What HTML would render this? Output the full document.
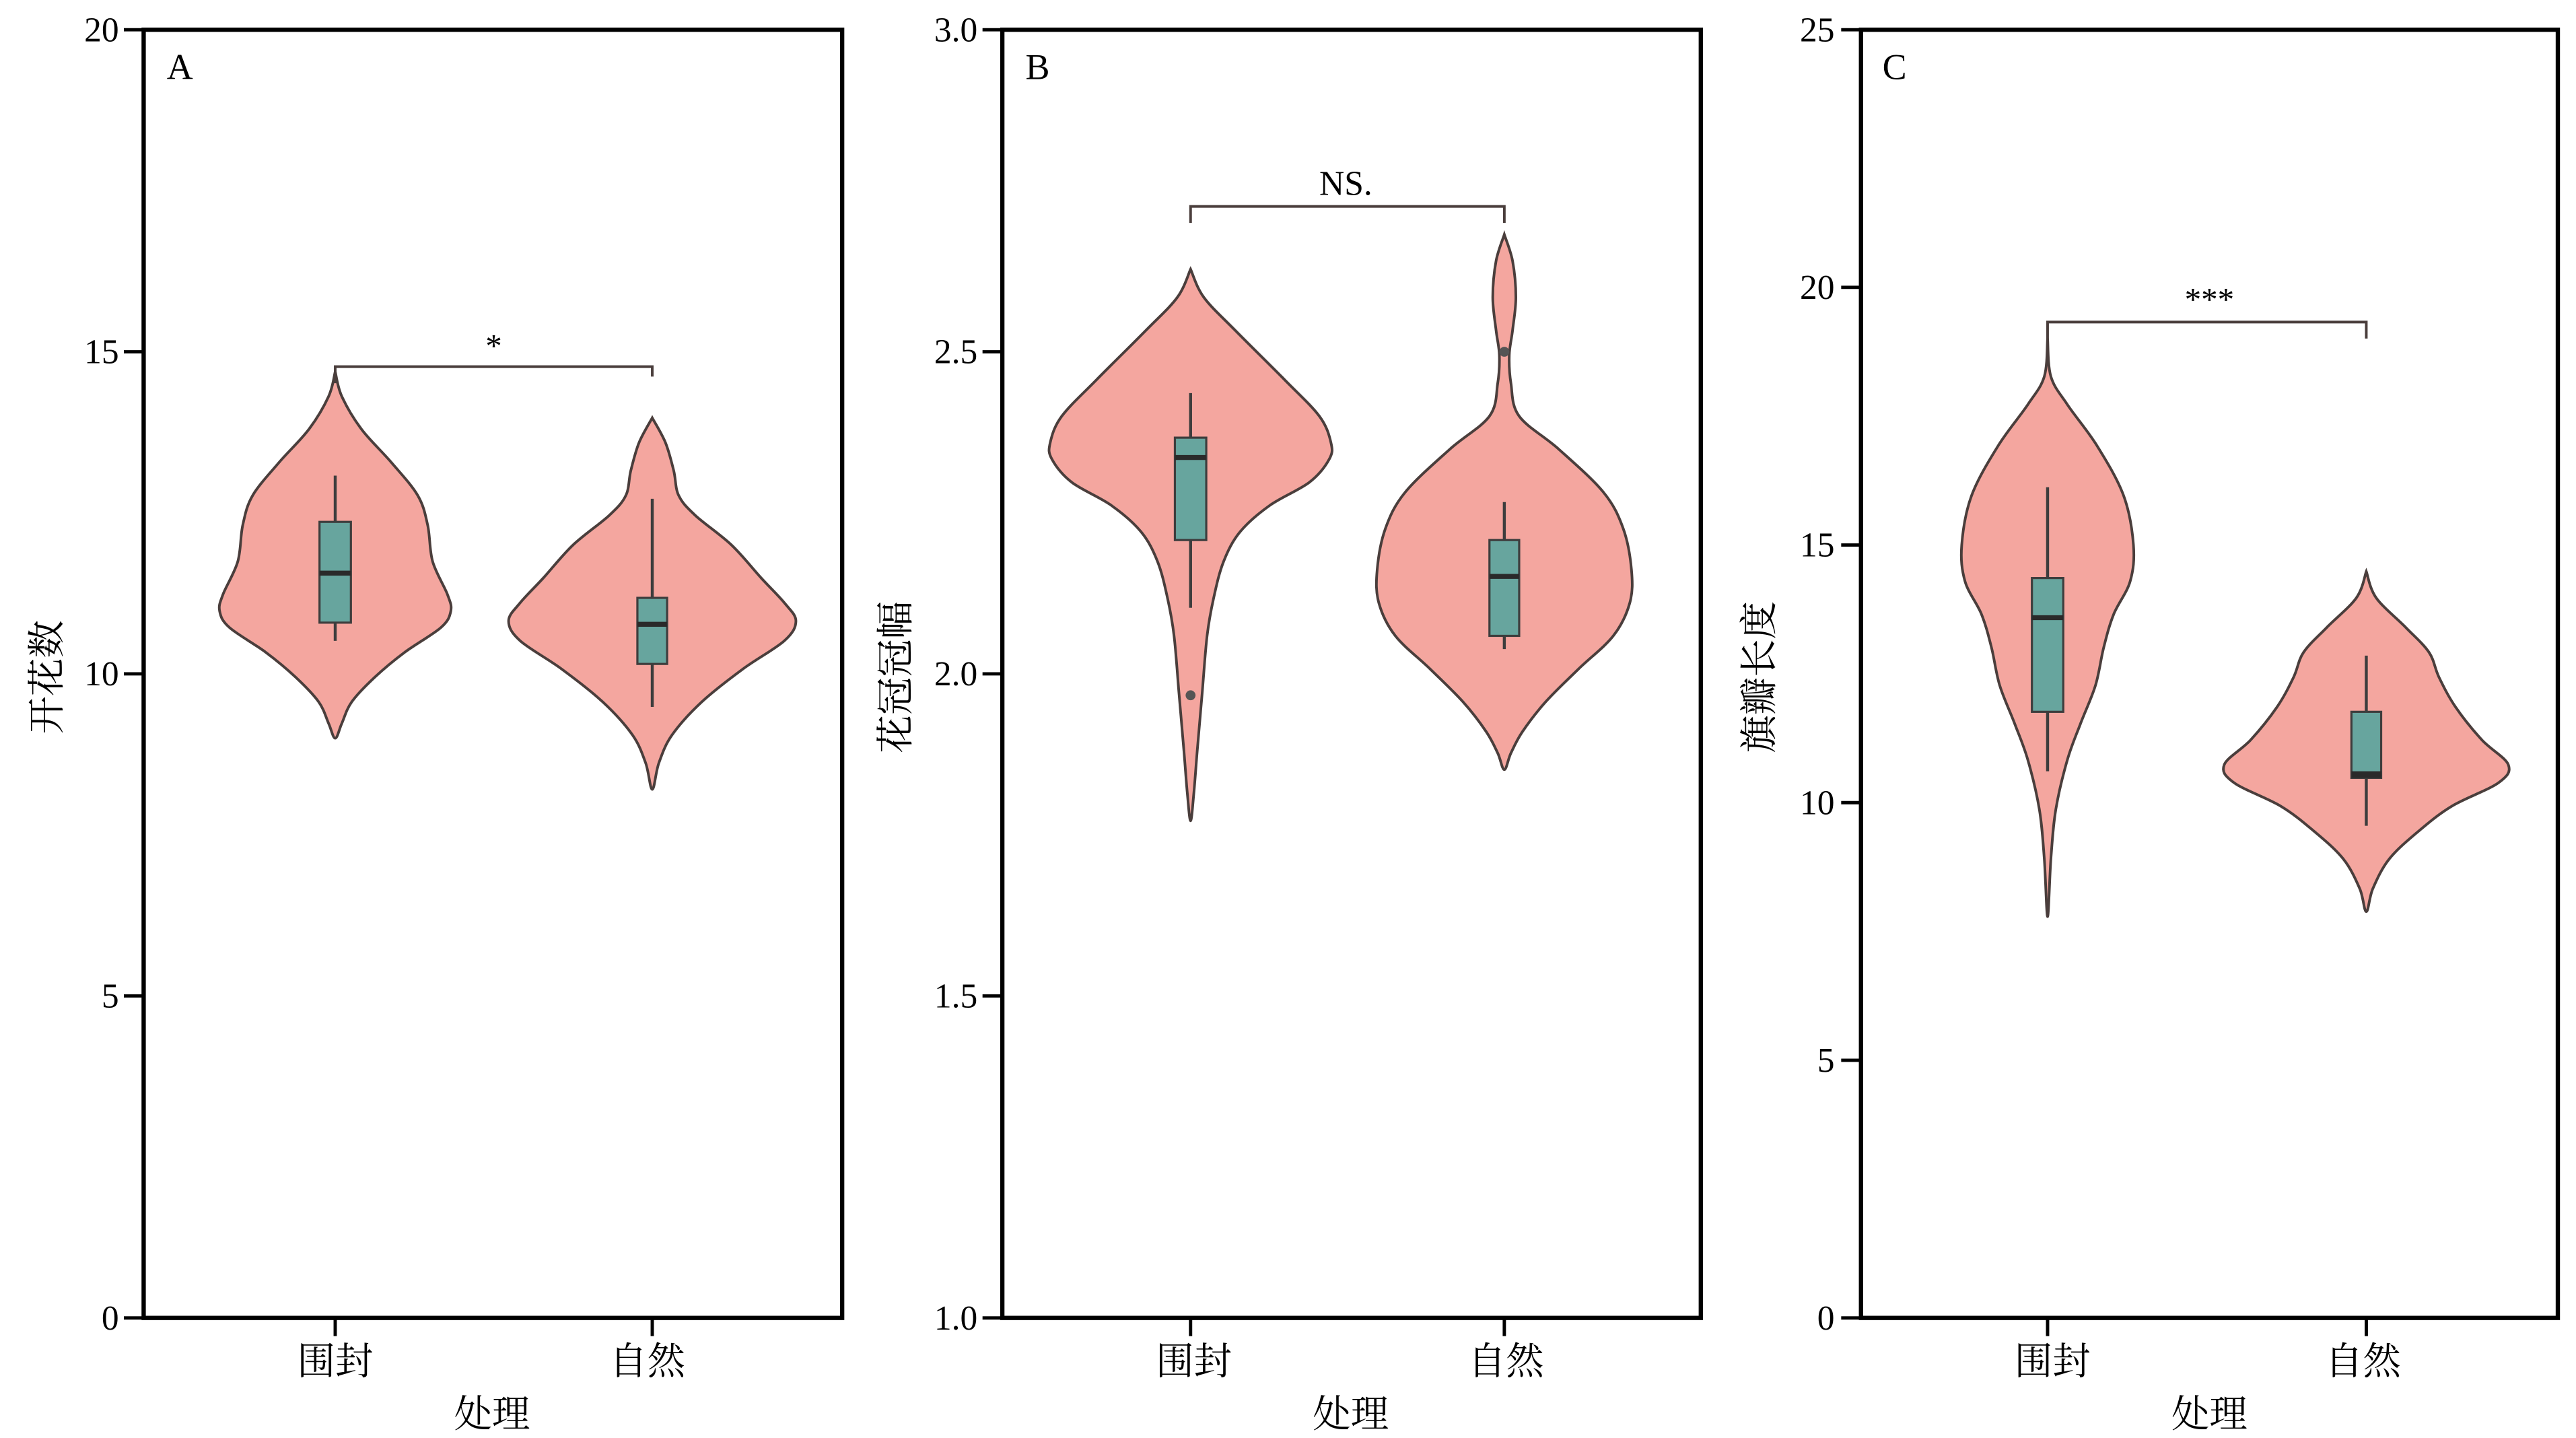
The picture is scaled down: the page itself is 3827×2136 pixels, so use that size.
<!DOCTYPE html>
<html><head><meta charset="utf-8"><style>
html,body{margin:0;padding:0;background:#fff}
svg{display:block}
text{font-family:"Liberation Serif","Noto Serif CJK SC","Noto Sans CJK SC",serif;fill:#000}
</style></head><body>
<svg id="s" width="3827" height="2136" viewBox="0 0 1560 870.7" preserveAspectRatio="none" xmlns="http://www.w3.org/2000/svg">
<g id="g"></g>
<!-- text -->
<g font-size="21" text-anchor="end">
<text x="72" y="805">0</text><text x="72" y="610">5</text><text x="72" y="415">10</text><text x="72" y="220">15</text><text x="72" y="25">20</text>
<text x="592" y="805">1.0</text><text x="592" y="610">1.5</text><text x="592" y="415">2.0</text><text x="592" y="220">2.5</text><text x="592" y="25">3.0</text>
<text x="1111" y="805">0</text><text x="1111" y="649">5</text><text x="1111" y="493">10</text><text x="1111" y="337">15</text><text x="1111" y="181">20</text><text x="1111" y="25">25</text>
</g>
<g font-size="22">
<text x="101" y="48">A</text><text x="621" y="48">B</text><text x="1140" y="48">C</text>
</g>
<g font-size="23" text-anchor="middle">
<text x="203" y="832">围封</text><text x="392" y="832">自然</text>
<text x="723" y="832">围封</text><text x="912" y="832">自然</text>
<text x="1243" y="832">围封</text><text x="1431" y="832">自然</text>
<text x="298" y="864">处理</text><text x="818" y="864">处理</text><text x="1338" y="864">处理</text>
<text transform="translate(36,410) rotate(-90)">开花数</text>
<text transform="translate(550,410) rotate(-90)">花冠冠幅</text>
<text transform="translate(1073,410) rotate(-90)">旗瓣长度</text>
<text x="299" y="216" font-size="20">*</text>
<text x="815" y="118" font-size="21">NS.</text>
<text x="1338" y="188" font-size="20">***</text>
</g>
</svg>
<script>
var NS="http://www.w3.org/2000/svg",g=document.getElementById('g');
function el(t,a){var e=document.createElementNS(NS,t);for(var k in a)e.setAttribute(k,a[k]);g.appendChild(e);return e;}
function smooth(pts){var d="M"+pts[0][0]+","+pts[0][1];for(var i=0;i<pts.length-1;i++){var p0=pts[i-1]||pts[i],p1=pts[i],p2=pts[i+1],p3=pts[i+2]||p2;
d+=" C"+(p1[0]+(p2[0]-p0[0])/6)+","+(p1[1]+(p2[1]-p0[1])/6)+" "+(p2[0]-(p3[0]-p1[0])/6)+","+(p2[1]-(p3[1]-p1[1])/6)+" "+p2[0]+","+p2[1];}return d;}
function violin(cx,prof){var r=prof.map(function(p){return[cx+p[1],p[0]]});var l=prof.slice().reverse().map(function(p){return[cx-p[1],p[0]]});
var pts=r.concat(l.slice(1));el('path',{d:smooth(pts)+"Z",fill:"#f4a69f",stroke:"#4a3e3c","stroke-width":1.6});}
function box(cx,w,t,b,m,wt,wb,thick){el('line',{x1:cx,x2:cx,y1:wt,y2:wb,stroke:"#3d3d3d","stroke-width":1.8});
el('rect',{x:cx-w,y:t,width:2*w,height:b-t,fill:"#67a59e",stroke:"#3d3d3d","stroke-width":1.3});
el('line',{x1:cx-w,x2:cx+w,y1:m,y2:m,stroke:"#2a2a2a","stroke-width":thick||3});}
function axes(l,r,ticks){el('rect',{x:l,y:18,width:r-l,height:780,fill:"none",stroke:"#000","stroke-width":2.6});
ticks.forEach(function(y){el('line',{x1:l-12,x2:l,y1:y,y2:y,stroke:"#000","stroke-width":2});});}
function bracket(x1,x2,y,y1,y2){el('path',{d:"M"+x1+","+y1+"L"+x1+","+y+"L"+x2+","+y+"L"+x2+","+y2,fill:"none",stroke:"#4a3e3c","stroke-width":1.6});}
axes(87,510,[18,213,408,603,798]);axes(607,1030,[18,213,408,603,798]);axes(1127,1549,[18,174,330,486,642,798]);
[[203,87,510],[395,87,510],[721,607,1030],[911,607,1030],[1240,1127,1549],[1433,1127,1549]].forEach(function(a){el('line',{x1:a[0],x2:a[0],y1:798,y2:809,stroke:"#000","stroke-width":2});});
// A
violin(203,[[225,0],[240,4],[260,16],[280,34],[300,50],[318,56],[340,59],[360,68],[370,70],[380,64],[395,42],[410,24],[425,10],[438,4],[447,0]]);
box(203,9.5,316,377,347,288,388);
violin(395,[[253,0],[268,8],[285,13],[300,16],[312,26],[330,48],[350,66],[365,80],[376,87],[388,80],[405,55],[425,30],[445,12],[462,4],[478,0]]);
box(395,9,362,402,378,302,428);
bracket(203,395,222,232,228);
// B
violin(721,[[163,0],[180,8],[200,27],[230,57],[252,78],[268,85],[278,84],[292,72],[306,48],[322,30],[340,20],[362,14],[385,10],[420,7],[455,4],[480,2],[497,0]]);
box(721,9.5,265,327,277,238,368);
el('circle',{cx:721,cy:421,r:3,fill:"#555"});
violin(911,[[142,0],[158,5],[180,7],[200,5],[215,3],[232,4],[252,9],[272,33],[298,60],[320,72],[345,77],[365,76],[385,66],[405,45],[425,25],[443,11],[456,4],[466,0]]);
box(911,9,327,385,349,304,393);
el('circle',{cx:911,cy:213,r:3,fill:"#555"});
bracket(721,911,125,135,135);
// C
violin(1240,[[205,0],[228,2],[245,12],[270,30],[300,46],[330,52],[352,50],[372,40],[392,34],[415,29],[438,20],[460,12],[490,5],[520,2],[555,0]]);
box(1240,9.5,350,431,374,295,467);
violin(1433,[[346,0],[362,6],[380,24],[395,38],[410,44],[428,54],[448,70],[463,86],[474,80],[488,52],[503,32],[520,14],[538,4],[552,0]]);
box(1433,9,431,471,469,397,500,4);
bracket(1240,1433,195,215,205);
</script>
</body></html>
